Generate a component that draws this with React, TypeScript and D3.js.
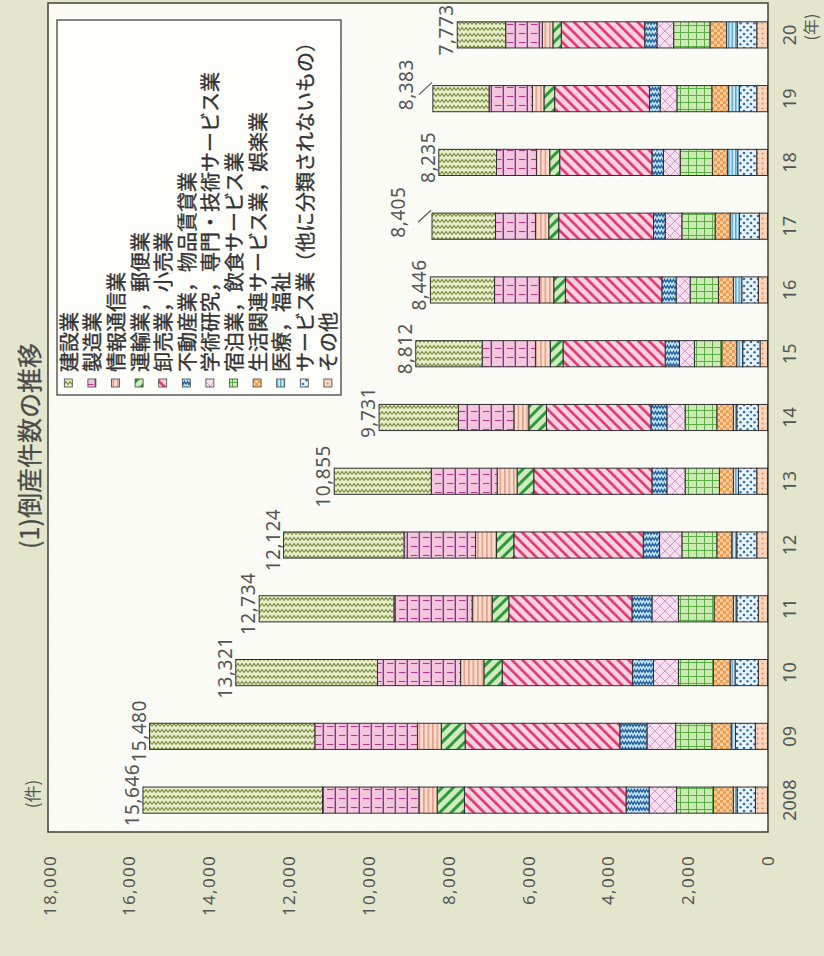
import React from "react";
import * as d3 from "d3";

const years = ["2008", "09", "10", "11", "12", "13", "14", "15", "16", "17", "18", "19", "20"];
const totals = [15646, 15480, 13321, 12734, 12124, 10855, 9731, 8812, 8446, 8405, 8235, 8383, 7773];
const categories = [
  "建設業",
  "製造業",
  "情報通信業",
  "運輸業，郵便業",
  "卸売業，小売業",
  "不動産業，物品賃貸業",
  "学術研究，専門・技術サービス業",
  "宿泊業，飲食サービス業",
  "生活関連サービス業，娯楽業",
  "医療，福祉",
  "サービス業（他に分類されないもの）",
  "その他",
];

const construction = [4497, 4139, 3550, 3376, 3018, 2432, 1986, 1665, 1608, 1591, 1446, 1407, 1214];
const manufacturing = [2417, 2570, 2083, 1960, 1792, 1650, 1390, 1333, 1125, 1000, 1000, 1085, 917];
const infoComm = [457, 598, 583, 500, 525, 500, 375, 375, 358, 333, 333, 290, 265];
const transport = [682, 598, 458, 417, 433, 417, 442, 317, 292, 250, 250, 268, 210];
const wholesaleRetail = [4050, 3875, 3263, 3085, 3243, 2960, 2617, 2558, 2417, 2375, 2310, 2375, 2090];
const realEstate = [577, 680, 528, 500, 408, 375, 400, 358, 358, 292, 290, 270, 308];
const scientific = [687, 718, 625, 665, 560, 458, 458, 375, 350, 418, 418, 418, 418];
const accommodation = [925, 908, 875, 893, 875, 858, 793, 685, 708, 833, 808, 875, 908];
const livingRelated = [497, 483, 418, 483, 375, 350, 415, 375, 375, 375, 375, 415, 418];
const medical = [95, 108, 125, 85, 125, 125, 85, 150, 210, 233, 260, 275, 265];
const otherServices = [460, 498, 583, 540, 500, 460, 540, 433, 415, 500, 475, 435, 490];
const others = [302, 305, 230, 230, 270, 270, 230, 188, 230, 205, 270, 270, 270];

const seriesValues = [
  construction, manufacturing, infoComm, transport, wholesaleRetail, realEstate,
  scientific, accommodation, livingRelated, medical, otherServices, others,
];

const tickValues = [0, 2000, 4000, 6000, 8000, 10000, 12000, 14000, 16000, 18000];

// labels that are lifted off their bar with a leader line
const leaderYears = ["17", "19"];

const FONT = '"Noto Sans CJK JP", "Noto Sans", sans-serif';
const NUMFONT = '"Noto Sans", "DejaVu Sans", sans-serif';

type PatProps = { id: string; w: number; h: number; bg: string; rot?: number; children?: React.ReactNode };
const Pat = ({ id, w, h, bg, rot = 0, children }: PatProps) => (
  <pattern id={id} width={w} height={h} patternUnits="userSpaceOnUse" patternTransform={`rotate(${90 + rot})`}>
    <rect width={w} height={h} fill={bg} />
    {children}
  </pattern>
);

export default function App() {
  const W = 824;
  const H = 956;

  const table = years.map((y, i) => {
    const row: Record<string, number | string> = { year: y };
    categories.forEach((c, k) => (row[c] = seriesValues[k][i]));
    return row;
  });

  const stackKeys = categories.slice().reverse();
  const stacked = d3.stack<Record<string, number | string>>().keys(stackKeys).value((d, k) => d[k] as number)(table as any);

  // unrotated frame: x = category axis, y = value axis
  const x = d3.scaleBand<string>().domain(years).range([124, 953]).paddingInner(0.59).paddingOuter(0.295);
  const y = d3.scaleLinear().domain([0, 18000]).range([767.5, 49]);

  const patId = (k: number) => `pat${k}`;

  return (
    <svg width={W} height={H} style={{ position: "absolute", left: 0, top: 0 }} xmlns="http://www.w3.org/2000/svg">
      <defs>
        <Pat id="pat0" w={8} h={6} bg="#e9efcb">
          <path d="M0,4.5 L2,1.5 L4,4.5 L6,1.5 L8,4.5" fill="none" stroke="#7a8a40" strokeWidth={1.1} />
        </Pat>
        <Pat id="pat1" w={12} h={9} bg="#f3c6de">
          <line x1={11.3} y1={0} x2={11.3} y2={9} stroke="#7b2b8e" strokeWidth={1.3} />
          <line x1={3} y1={4.5} x2={9.5} y2={4.5} stroke="#b3388a" strokeWidth={1.1} />
        </Pat>
        <Pat id="pat2" w={4.5} h={4} bg="#f8dccf">
          <rect x={0} y={0} width={1.7} height={4} fill="#e6a08a" />
        </Pat>
        <Pat id="pat3" w={8} h={8} bg="#d2ebbe" rot={45}>
          <rect x={0} y={0} width={3} height={8} fill="#2c9a3c" />
        </Pat>
        <Pat id="pat4" w={7.5} h={8} bg="#f8d4e3" rot={-45}>
          <rect x={0} y={0} width={2.6} height={8} fill="#e2376f" />
        </Pat>
        <Pat id="pat5" w={6} h={6} bg="#c2e3f2">
          <path d="M0,4.5 L1.5,1.5 L3,4.5 L4.5,1.5 L6,4.5" fill="none" stroke="#1f5c9c" strokeWidth={1.3} />
        </Pat>
        <Pat id="pat6" w={10} h={10} bg="#f6e0ef">
          <path d="M0,0 L10,10 M10,0 L0,10" stroke="#d39ac7" strokeWidth={1} />
        </Pat>
        <Pat id="pat7" w={8} h={7} bg="#cdeab4">
          <path d="M0,0.5 H8 M0.5,0 V7" stroke="#58ad45" strokeWidth={1} />
        </Pat>
        <Pat id="pat8" w={6} h={6} bg="#f7cf9c">
          <rect x={0} y={0} width={3} height={3} fill="#ec9c55" />
          <rect x={3} y={3} width={3} height={3} fill="#ec9c55" />
        </Pat>
        <Pat id="pat9" w={3.5} h={4} bg="#d3eaf5">
          <rect x={0} y={0} width={1.5} height={4} fill="#4ea8da" />
        </Pat>
        <Pat id="pat10" w={7} h={7} bg="#eaf3fa">
          <circle cx={2} cy={2} r={1.3} fill="#2f6fb0" />
          <circle cx={5.5} cy={5.2} r={1.2} fill="#2f6fb0" />
        </Pat>
        <Pat id="pat11" w={5} h={5} bg="#f8d4be">
          <circle cx={2.5} cy={2.5} r={1} fill="#e68a58" />
        </Pat>
        <pattern id="dots" width={12} height={12} patternUnits="userSpaceOnUse">
          <circle cx={6} cy={6} r={0.6} fill="#d9d9cf" />
        </pattern>
      </defs>

      <rect x={0} y={0} width={W} height={H} fill="#e3e6cd" />

      <g transform={`translate(0,${H}) rotate(-90)`} fontFamily={FONT}>
        {/* plot frame */}
        <rect x={124} y={48} width={829} height={720} fill="#fcfcf7" />
        <rect x={124} y={48} width={829} height={720} fill="url(#dots)" />
        <rect x={124} y={48} width={829} height={720} fill="none" stroke="#4b4b3c" strokeWidth={1.6} />

        {/* title and unit */}
        <text x={510} y={28} textAnchor="middle" dominantBaseline="central" fontSize={25} fill="#4a4a4a" stroke="#4a4a4a" strokeWidth={0.3}>
          (1)倒産件数の推移
        </text>
        <text x={162} y={31} textAnchor="middle" dominantBaseline="central" fontSize={17} fill="#555">
          (件)
        </text>

        {/* value axis labels */}
        {tickValues.map((v) => (
          <text key={v} x={101} y={y(v)} textAnchor="end" dominantBaseline="central" fontFamily={NUMFONT} fontSize={17} letterSpacing={1.3} fill="#555">
            {d3.format(",")(v)}
          </text>
        ))}

        {/* category labels */}
        {years.map((yr) => (
          <text key={yr} x={(x(yr) as number) + x.bandwidth() / 2} y={796} textAnchor="middle" fontFamily={NUMFONT} fontSize={18} fill="#555">
            {yr}
          </text>
        ))}
        <text x={929} y={817} textAnchor="middle" fontSize={16} fill="#555">
          (年)
        </text>

        {/* stacked bars */}
        {stacked.map((s) => {
          const k = categories.indexOf(s.key);
          return (
            <g key={s.key}>
              {s.map((d, i) => (
                <rect
                  key={i}
                  x={x(years[i]) as number}
                  y={y(d[1])}
                  width={x.bandwidth()}
                  height={y(d[0]) - y(d[1])}
                  fill={`url(#${patId(k)})`}
                  stroke="#2f2f2f"
                  strokeWidth={1}
                />
              ))}
            </g>
          );
        })}

        {/* total labels */}
        {years.map((yr, i) => {
          const bc = (x(yr) as number) + x.bandwidth() / 2;
          const top = y(totals[i]);
          const lifted = leaderYears.includes(yr);
          const lift = yr === "17" ? 23 : 16;
          return (
            <g key={yr}>
              <text
                x={bc + (lifted ? 14 : 5)}
                y={top - 4 - (lifted ? lift : 0)}
                textAnchor="middle"
                fontFamily={NUMFONT}
                fontSize={19}
                letterSpacing={0.5}
                fill="#555"
              >
                {d3.format(",")(totals[i])}
              </text>
              {lifted && (
                <line x1={bc + 4} y1={top - 14} x2={bc + 16} y2={top - 1} stroke="#555" strokeWidth={1.2} />
              )}
            </g>
          );
        })}

        {/* legend */}
        <rect x={561} y={57} width={375} height={284} fill="#fdfdf9" stroke="#444" strokeWidth={1.3} />
        {categories.map((c, k) => {
          const cy = 68.3 + k * 23.6;
          return (
            <g key={c}>
              <rect x={569} y={cy - 4} width={8} height={8} fill={`url(#${patId(k)})`} stroke="#444" strokeWidth={0.8} />
              <text x={584} y={cy} dominantBaseline="central" fontSize={20} fill="#333" stroke="#333" strokeWidth={0.35}>
                {c}
              </text>
            </g>
          );
        })}
      </g>
    </svg>
  );
}
